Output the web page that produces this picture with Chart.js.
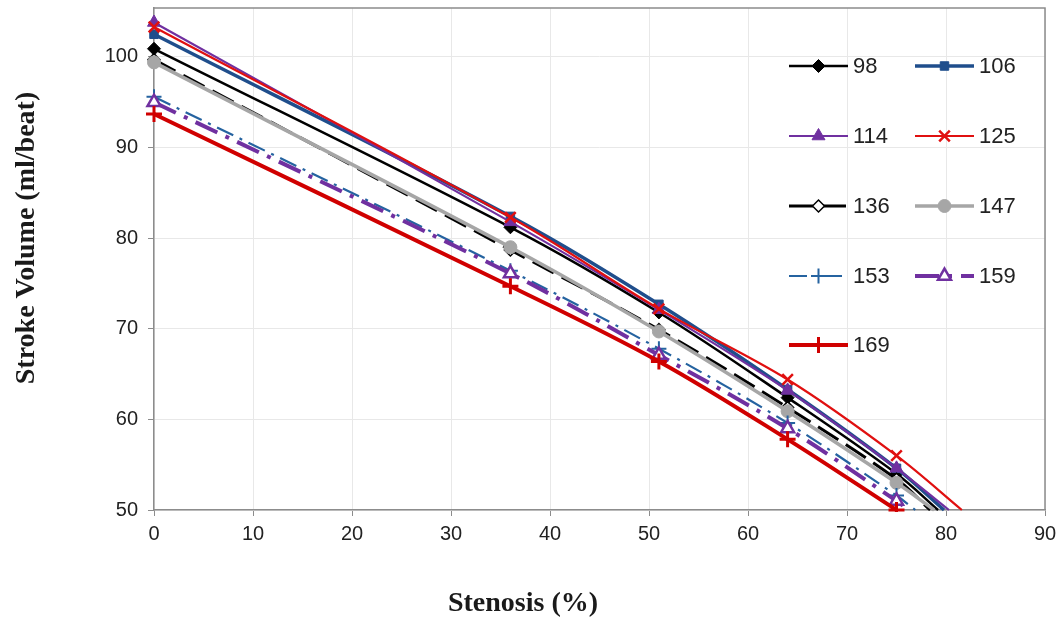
<!DOCTYPE html>
<html>
<head>
<meta charset="utf-8">
<title>Stroke Volume vs Stenosis</title>
<script src="https://cdn.jsdelivr.net/npm/chart.js@4.4.1/dist/chart.umd.min.js"></script>
<style>
  html, body { margin: 0; padding: 0; background: #ffffff; }
  #wrap { width: 1062px; height: 620px; position: relative; }
</style>
</head>
<body>
<div id="wrap"><canvas id="chart" width="1062" height="620"></canvas></div>
<script>
// Stenosis levels (%) where stroke volume was computed
const stenosis = [0, 36, 51, 64, 75];

// Series labels (heart rate, beats/min)
const seriesLabels = ['98', '106', '114', '125', '136', '147', '153', '159', '169'];

// Stroke volume (ml/beat) at each stenosis level, one array per series
const sv98  = [100.9, 81.2, 71.8, 62.4, 54.0];
const sv106 = [102.5, 82.4, 72.7, 63.3, 54.6];
const sv114 = [103.8, 81.8, 72.1, 63.2, 54.6];
const sv125 = [103.3, 82.3, 72.2, 64.4, 56.0];
const sv136 = [99.7, 78.7, 69.9, 61.3, 53.4];
const sv147 = [99.4, 79.0, 69.7, 60.9, 53.0];
const sv153 = [95.6, 76.4, 67.8, 59.6, 51.6];
const sv159 = [95.0, 76.1, 67.1, 59.0, 51.0];
const sv169 = [93.7, 74.7, 66.4, 57.8, 50.0];

// Stenosis (%) at which each curve runs out at the 50 ml/beat floor (null: ends at last point)
const floorCrossing = [79.2, 79.8, 80.3, 81.6, 78.4, 78.8, 76.9, 76.2, null];

// Axis tick values
const xTicks = [0, 10, 20, 30, 40, 50, 60, 70, 80, 90];
const yTicks = [50, 60, 70, 80, 90, 100];

const allValues = [sv98, sv106, sv114, sv125, sv136, sv147, sv153, sv159, sv169];

// Line / marker appearance per series
const styles = [
  { color: '#000000', width: 2.5, dash: [],              point: 'rectRot',  radius: 6.5, fill: '#000000', pbw: 1 },
  { color: '#1F4E8C', width: 3.5, dash: [],              point: 'rect',     radius: 6,   fill: '#1F4E8C', pbw: 1 },
  { color: '#7030A0', width: 2.2, dash: [],              point: 'triangle', radius: 7.5, fill: '#7030A0', pbw: 1 },
  { color: '#E01010', width: 2.2, dash: [],              point: 'crossRot', radius: 7.5, fill: '#E01010', pbw: 2.5 },
  { color: '#000000', width: 3,   dash: [24, 9],         point: 'rectRot',  radius: 6,   fill: '#ffffff', pbw: 1.5 },
  { color: '#A6A6A6', width: 3.5, dash: [],              point: 'circle',   radius: 6.5, fill: '#A6A6A6', pbw: 1 },
  { color: '#2563A0', width: 2.2, dash: [18, 7, 3, 7],   point: 'cross',    radius: 7.5, fill: '#2563A0', pbw: 2 },
  { color: '#7030A0', width: 4,   dash: [24, 9, 4, 9],   point: 'triangle', radius: 7.5, fill: '#ffffff', pbw: 2.5 },
  { color: '#D00000', width: 4,   dash: [],              point: 'cross',    radius: 8,   fill: '#D00000', pbw: 3 }
];

function buildPoints(vals, crossing) {
  const pts = stenosis.map((s, i) => ({ x: s, y: vals[i] }));
  if (crossing !== null) pts.push({ x: crossing, y: yTicks[0] });
  return pts;
}

const datasets = allValues.map((vals, i) => {
  const st = styles[i];
  const pts = buildPoints(vals, floorCrossing[i]);
  const radii = pts.map((p, k) => (k < stenosis.length ? st.radius : 0));
  return {
    label: seriesLabels[i],
    data: pts,
    borderColor: st.color,
    backgroundColor: st.fill,
    borderWidth: st.width,
    borderDash: st.dash,
    pointStyle: st.point,
    pointRadius: radii,
    pointHoverRadius: radii,
    pointBackgroundColor: st.fill,
    pointBorderColor: st.color,
    pointBorderWidth: st.pbw,
    tension: 0.35,
    fill: false,
    clip: { left: 12, top: 10, right: 0, bottom: 2 },
    order: allValues.length - 1 - i
  };
});

function drawMarker(ctx, st, x, y) {
  ctx.save();
  ctx.setLineDash([]);
  ctx.fillStyle = st.fill;
  ctx.strokeStyle = st.color;
  ctx.lineWidth = st.pbw;
  if (Chart.helpers && Chart.helpers.drawPoint) {
    Chart.helpers.drawPoint(ctx, { pointStyle: st.point, radius: st.radius, rotation: 0, borderWidth: st.pbw }, x, y);
  } else {
    ctx.beginPath();
    ctx.arc(x, y, st.radius, 0, Math.PI * 2);
    ctx.fill();
    ctx.stroke();
  }
  ctx.restore();
}

// Two-column legend inside the plot, upper right
const gridLegend = {
  id: 'gridLegend',
  afterDatasetsDraw(chart) {
    const ctx = chart.ctx;
    const colX = [789, 915];
    const rowY = [66, 136, 206, 276, 345];
    const lineLen = 59;
    ctx.save();
    ctx.font = '22px "Liberation Sans", Arial, sans-serif';
    ctx.textBaseline = 'middle';
    ctx.textAlign = 'left';
    seriesLabels.forEach((lab, i) => {
      const st = styles[i];
      const x = colX[i % 2];
      const y = rowY[Math.floor(i / 2)];
      ctx.save();
      ctx.strokeStyle = st.color;
      ctx.lineWidth = st.width;
      ctx.setLineDash(st.dash);
      ctx.beginPath();
      ctx.moveTo(x, y);
      ctx.lineTo(x + lineLen, y);
      ctx.stroke();
      ctx.restore();
      drawMarker(ctx, st, x + lineLen / 2, y);
      ctx.fillStyle = '#222222';
      ctx.fillText(lab, x + lineLen + 5, y + 1);
    });
    ctx.restore();
  }
};

// Plot frame and axis titles
const frameAndTitles = {
  id: 'frameAndTitles',
  beforeDatasetsDraw(chart) {
    const { ctx, chartArea: a } = chart;
    ctx.save();
    ctx.strokeStyle = '#8C8C8C';
    ctx.lineWidth = 1.5;
    ctx.beginPath();
    ctx.moveTo(a.left, a.top);
    ctx.lineTo(a.right, a.top);
    ctx.lineTo(a.right, a.bottom);
    ctx.stroke();
    ctx.restore();
  },
  afterDraw(chart) {
    const { ctx, chartArea: a } = chart;
    ctx.save();
    ctx.fillStyle = '#1a1a1a';
    ctx.font = 'bold 28px "Liberation Serif", "Times New Roman", serif';
    ctx.textAlign = 'center';
    ctx.textBaseline = 'middle';
    ctx.fillText('Stenosis (%)', a.left + 369, 604);
    ctx.translate(27, 238);
    ctx.rotate(-Math.PI / 2);
    ctx.fillText('Stroke Volume (ml/beat)', 0, 0);
    ctx.restore();
  }
};

const tickFont = { family: '"Liberation Sans", Arial, sans-serif', size: 20 };

new Chart(document.getElementById('chart'), {
  type: 'line',
  data: { datasets },
  options: {
    responsive: false,
    animation: false,
    devicePixelRatio: 1,
    layout: { autoPadding: false, padding: { left: 0, right: 17, top: 8, bottom: 0 } },
    plugins: {
      legend: { display: false },
      tooltip: { enabled: false },
      title: { display: false }
    },
    scales: {
      x: {
        type: 'linear',
        min: xTicks[0],
        max: xTicks[xTicks.length - 1],
        afterBuildTicks(scale) { scale.ticks = xTicks.map(v => ({ value: v })); },
        afterFit(scale) { scale.height = 110; scale.paddingLeft = 0; scale.paddingRight = 0; },
        ticks: { font: tickFont, color: '#222222', padding: 6, maxRotation: 0, autoSkip: false },
        grid: { color: '#E8E8E8', lineWidth: 1, tickColor: '#8C8C8C', tickLength: 6 },
        border: { color: '#8C8C8C', width: 1.5 }
      },
      y: {
        type: 'linear',
        min: yTicks[0],
        max: 105.4,
        afterBuildTicks(scale) { scale.ticks = yTicks.map(v => ({ value: v })); },
        afterFit(scale) { scale.width = 154; scale.paddingTop = 0; scale.paddingBottom = 0; },
        ticks: { font: tickFont, color: '#222222', padding: 10 },
        grid: { color: '#E8E8E8', lineWidth: 1, tickColor: '#8C8C8C', tickLength: 6 },
        border: { color: '#8C8C8C', width: 1.5 }
      }
    }
  },
  plugins: [frameAndTitles, gridLegend]
});
</script>
</body>
</html>
